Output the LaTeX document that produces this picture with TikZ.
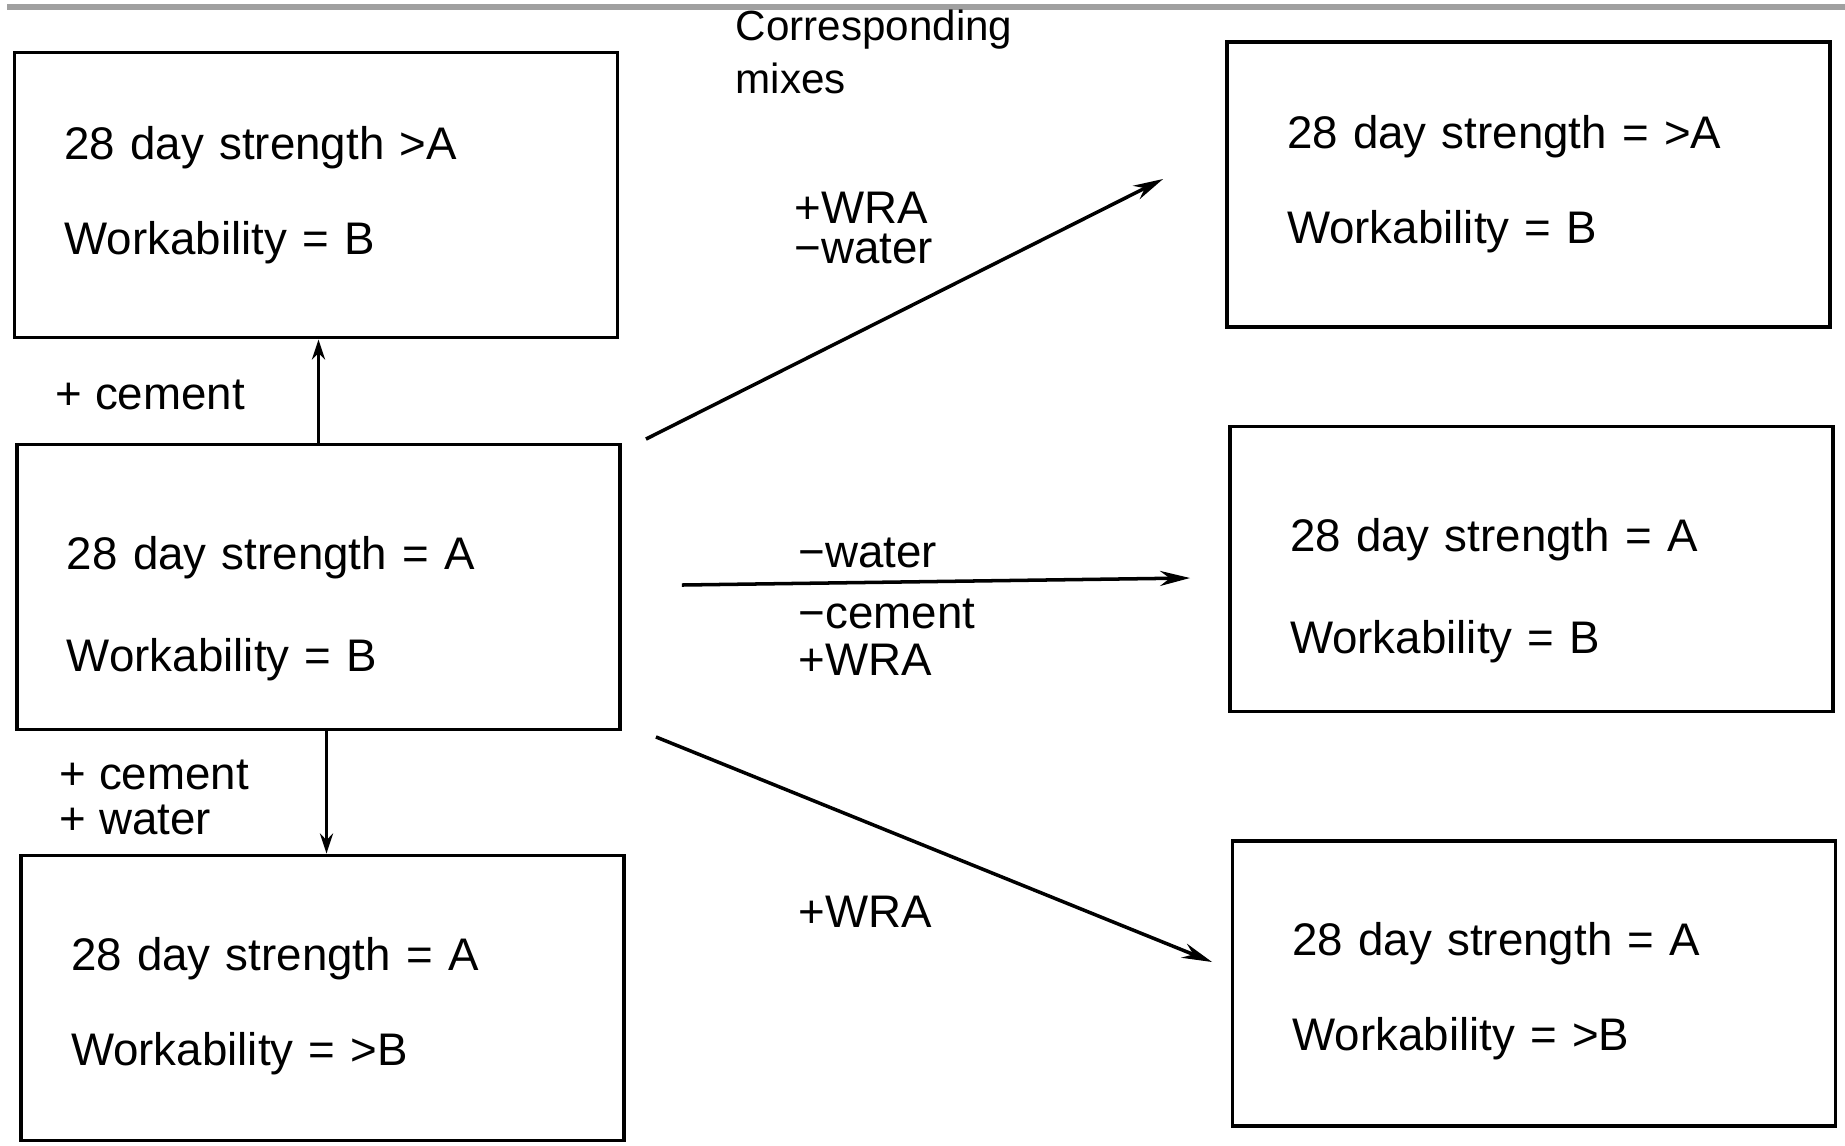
\documentclass[tikz,border=0pt]{standalone}
\usepackage{fontspec}
\setmainfont{Liberation Sans}
\usetikzlibrary{positioning}
\usetikzlibrary{calc}
\usetikzlibrary{arrows.meta}
\definecolor{mgray}{RGB}{160,160,160}

\begin{document}
\begin{tikzpicture}[mix/.style={draw, line width=1.1pt, minimum width=6.03cm, minimum height=2.85cm, text width=5.03cm, inner xsep=0.5cm, align=left, font=\fontsize{13}{16}\selectfont},
    mix_right/.style={mix, text width=4.83cm, inner xsep=0.6cm},
    change_text/.style={inner sep=0pt, anchor=west, align=left, font=\fontsize{13}{13}\selectfont},
    arrow_exp/.style={-{Stealth[length=3mm, width=1.5mm]}, line width=1pt},
    arrow_small/.style={-{Stealth[length=2mm, width=1.3mm]}, line width=1pt},
    node distance=4cm,
]
\useasboundingbox (0,0) rectangle (18.45,-11.45);

% frame line at the top
\draw[mgray, line width=1.5pt] (0.07,-0.07) -- (18.45,-0.07);

\node[mix] (ref) at (3.185,-5.87) {\rule{0pt}{22pt}28 day strength = A\\[13pt]Workability = B};
\node[mix, above of=ref, xshift=-0.025cm, yshift=-0.08cm] (stronger) {28 day strength >A\\[11pt]Workability = B};
\node[mix, below of=ref, xshift=0.04cm, yshift=-0.11cm] (wetter) {\rule{0pt}{14pt}28 day strength = A\\[11pt]Workability = >B};

\node[mix_right, right of=ref, xshift=8.13cm, yshift=0.18cm] (lesscement) {\rule{0pt}{22pt}28 day strength = A\\[13pt]Workability = B};
\node[mix_right, above of=lesscement, xshift=-0.03cm, yshift=-0.155cm] (lesswater) {28 day strength = >A\\[11pt]Workability = B};
\node[mix_right, below of=lesscement, xshift=0.025cm, yshift=-0.145cm] (withwra) {\rule{0pt}{14pt}28 day strength = A\\[11pt]Workability = >B};

\node[change_text, font=\fontsize{12}{15}\selectfont] (corresponding) at (7.35,-0.52) {Corresponding\\mixes};

% arrows to the left column
\draw[arrow_small] (ref.north) -- (ref.north |- stronger.south);
\draw[arrow_small] ([xshift=0.08cm]ref.south) -- ([xshift=0.08cm]ref.south |- wetter.north);

\node[change_text] (add_cement) at (0.55,-3.95) {+ cement};
\node[change_text] (add_cement_water) at (0.59,-7.975) {+ cement\\+ water};

% arrows to the corresponding mixes
\coordinate (up_start) at ([xshift=0.24cm, yshift=0.035cm]ref.north east);
\coordinate (up_end) at ([xshift=-0.62cm, yshift=0.055cm]lesswater.west);
\coordinate (mid_start) at ([xshift=0.6cm, yshift=0.02cm]ref.east);
\coordinate (mid_end) at ([xshift=-0.38cm, yshift=-0.09cm]lesscement.west);
\coordinate (down_start) at ([xshift=0.34cm, yshift=-0.055cm]ref.south east);
\coordinate (down_end) at ([xshift=-0.185cm, yshift=0.215cm]withwra.west);

\draw[arrow_exp] (up_start) -- (up_end);
\draw[arrow_exp] (mid_start) -- (mid_end);
\draw[arrow_exp] (down_start) -- (down_end);

\node[change_text, font=\fontsize{13}{11.5}\selectfont] (wra_water) at (7.94,-2.28) {+WRA\\−water};
\node[change_text] (less_water) at (7.98,-5.53) {−water};
\node[change_text, font=\fontsize{13}{13.4}\selectfont] (cement_wra) at (7.98,-6.375) {−cement\\+WRA};
\node[change_text] (wra) at (7.98,-9.12) {+WRA};

\end{tikzpicture}
\end{document}
